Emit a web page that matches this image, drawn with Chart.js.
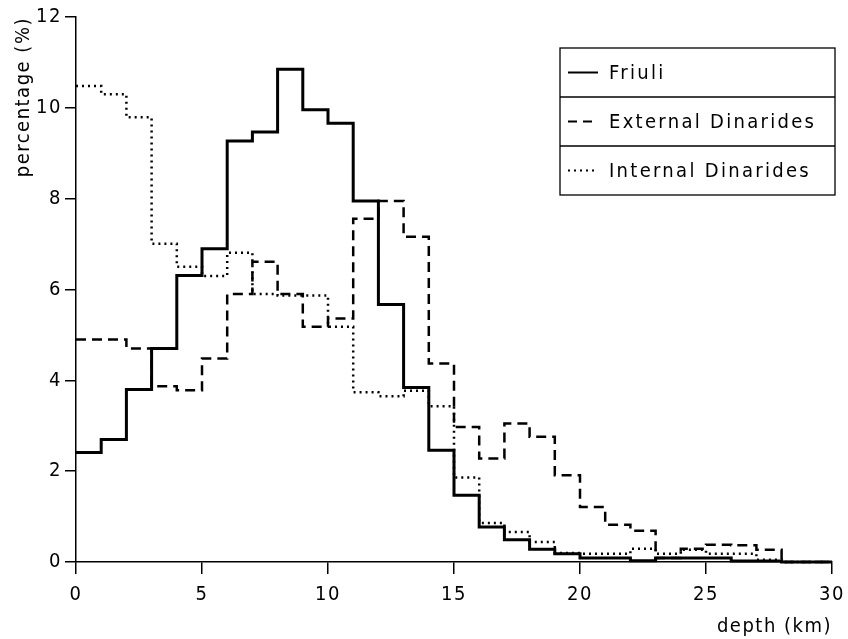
<!DOCTYPE html>
<html>
<head>
<meta charset="utf-8">
<script src="https://cdn.jsdelivr.net/npm/chart.js@4.4.1/dist/chart.umd.min.js"></script>
<style>
  html, body { margin: 0; padding: 0; background: #fff; }
  #wrap { width: 848px; height: 639px; position: relative; }
</style>
</head>
<body>
<div id="wrap"><canvas id="chart"></canvas></div>
<script>
// left edge of each 1 km depth bin
const depthBins = [0, 1, 2, 3, 4, 5, 6, 7, 8, 9, 10, 11, 12, 13, 14, 15, 16, 17, 18, 19, 20, 21, 22, 23, 24, 25, 26, 27, 28, 29];
// percentage of events per bin
const friuli = [2.41, 2.70, 3.80, 4.70, 6.31, 6.90, 9.27, 9.47, 10.85, 9.96, 9.66, 7.95, 5.67, 3.84, 2.46, 1.47, 0.77, 0.49, 0.28, 0.18, 0.09, 0.09, 0.03, 0.09, 0.09, 0.09, 0.02, 0.02, 0, 0];
const externalDinarides = [4.90, 4.90, 4.70, 3.87, 3.78, 4.48, 5.90, 6.61, 5.90, 5.18, 5.36, 7.56, 7.95, 7.16, 4.37, 2.97, 2.28, 3.05, 2.76, 1.91, 1.21, 0.82, 0.69, 0.09, 0.29, 0.38, 0.37, 0.27, 0, 0];
const internalDinarides = [10.48, 10.30, 9.79, 7.01, 6.50, 6.30, 6.81, 5.90, 5.87, 5.87, 5.18, 3.74, 3.65, 3.77, 3.43, 1.86, 0.86, 0.66, 0.44, 0.20, 0.18, 0.18, 0.29, 0.18, 0.27, 0.18, 0.18, 0.05, 0, 0];
const seriesLabels = ["Friuli", "External Dinarides", "Internal Dinarides"];
const xTicks = [0, 5, 10, 15, 20, 25, 30];
const yTicks = [0, 2, 4, 6, 8, 10, 12];

// histogram outline: value held from bin start to next bin start
function toSteps(values) {
  const pts = depthBins.map((d, i) => ({ x: d, y: values[i] }));
  pts.push({ x: depthBins[depthBins.length - 1] + 1, y: 0 });
  return pts;
}

const FONT = "'DejaVu Sans Condensed', 'DejaVu Sans', sans-serif";
Chart.defaults.font.family = FONT;
Chart.defaults.font.size = 20;
Chart.defaults.color = "#000";

// the original plotter font is very wide
const wideText = {
  id: "wideText",
  beforeUpdate(chart) { chart.ctx.letterSpacing = "1.5px"; },
  beforeDraw(chart) { chart.ctx.letterSpacing = "1.5px"; }
};

// boxed legend with one row per series
const boxLegend = {
  id: "boxLegend",
  afterDraw(chart) {
    const ctx = chart.ctx;
    const left = 560, right = 835, top = 48, rowH = 49;
    ctx.save();
    ctx.letterSpacing = "2.3px";
    ctx.strokeStyle = "#000";
    ctx.lineWidth = 1.3;
    ctx.setLineDash([]);
    ctx.strokeRect(left, top, right - left, rowH * 3);
    for (let r = 1; r < 3; r++) {
      ctx.beginPath();
      ctx.moveTo(left, top + rowH * r);
      ctx.lineTo(right, top + rowH * r);
      ctx.stroke();
    }
    chart.data.datasets.forEach((ds, i) => {
      const cy = top + rowH * i + rowH / 2;
      ctx.beginPath();
      ctx.lineWidth = 2;
      ctx.setLineDash(i === 1 ? [9, 6] : (i === 2 ? [2, 4] : []));
      ctx.moveTo(568, cy);
      ctx.lineTo(598, cy);
      ctx.stroke();
      ctx.setLineDash([]);
      ctx.fillStyle = "#000";
      ctx.font = "20px " + FONT;
      ctx.textBaseline = "middle";
      ctx.textAlign = "left";
      ctx.fillText(ds.label, 609, cy + 1);
    });
    ctx.restore();
  }
};

const ctx = document.getElementById("chart").getContext("2d");
new Chart(ctx, {
  type: "line",
  data: {
    datasets: [
      {
        label: seriesLabels[0],
        data: toSteps(friuli),
        borderColor: "#000",
        borderWidth: 3,
        stepped: true,
        pointRadius: 0,
        fill: false,
        clip: false
      },
      {
        label: seriesLabels[1],
        data: toSteps(externalDinarides),
        borderColor: "#000",
        borderWidth: 2.5,
        borderDash: [10, 6],
        stepped: true,
        pointRadius: 0,
        fill: false,
        clip: false
      },
      {
        label: seriesLabels[2],
        data: toSteps(internalDinarides),
        borderColor: "#000",
        borderWidth: 2.5,
        borderDash: [2, 4],
        stepped: true,
        pointRadius: 0,
        fill: false,
        clip: false
      }
    ]
  },
  options: {
    responsive: true,
    maintainAspectRatio: false,
    animation: false,
    layout: { padding: { top: 17, right: 16, left: 0, bottom: 0 } },
    plugins: {
      legend: { display: false },
      tooltip: { enabled: false }
    },
    scales: {
      x: {
        type: "linear",
        min: 0,
        max: 30,
        afterBuildTicks: (scale) => { scale.ticks = xTicks.map(v => ({ value: v })); },
        afterFit: (scale) => { scale.height = 77; scale.paddingRight = 0; scale.paddingLeft = 0; },
        ticks: { padding: 9, maxRotation: 0 },
        grid: { drawOnChartArea: false, tickLength: 12, color: "#000", lineWidth: 1.5 },
        border: { color: "#000", width: 1.5 },
        title: {
          display: true,
          text: "depth (km)",
          align: "end",
          padding: { top: 0, bottom: 0 }
        }
      },
      y: {
        min: 0,
        max: 12,
        afterBuildTicks: (scale) => { scale.ticks = yTicks.map(v => ({ value: v })); },
        afterFit: (scale) => { scale.width = 76; },
        ticks: { padding: 3 },
        grid: { drawOnChartArea: false, tickLength: 11, color: "#000", lineWidth: 1.5 },
        border: { color: "#000", width: 1.5 },
        title: {
          display: true,
          text: "percentage (%)",
          align: "end",
          padding: { top: 12, bottom: 0 }
        }
      }
    }
  },
  plugins: [wideText, boxLegend]
});
</script>
</body>
</html>
